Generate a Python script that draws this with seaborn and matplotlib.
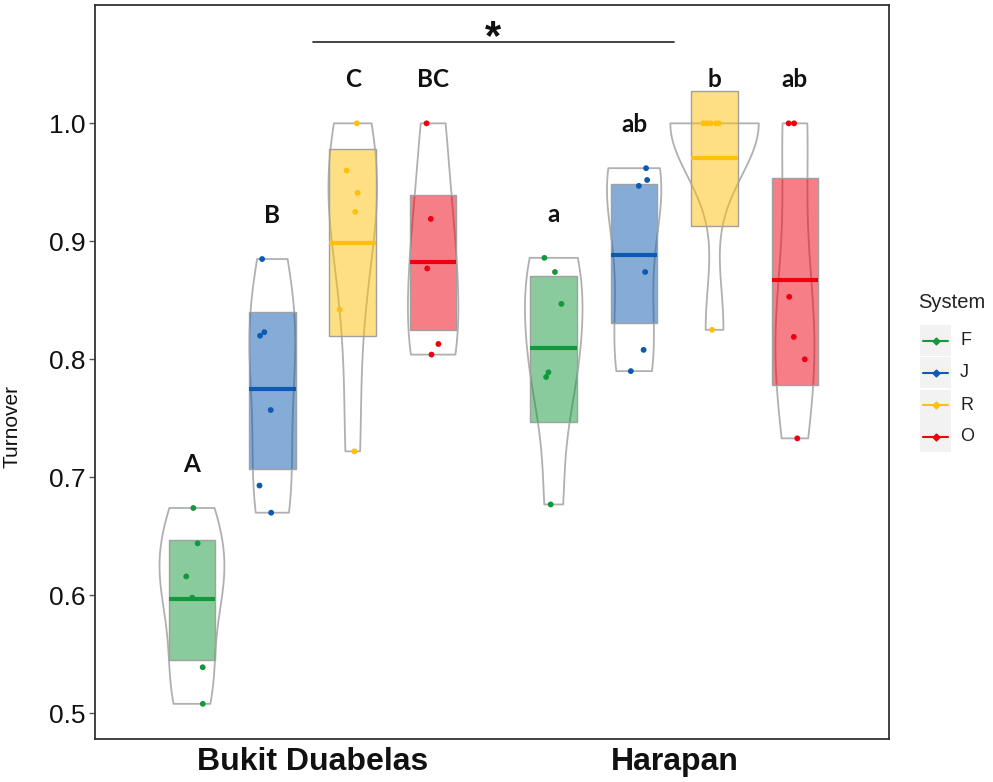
import numpy as np
import pandas as pd
import matplotlib
matplotlib.use("Agg")
import matplotlib.pyplot as plt
from matplotlib.patches import Rectangle
from matplotlib.lines import Line2D
import seaborn as sns

# ---------------- data ----------------
groups = ["Bukit Duabelas", "Harapan"]
systems = ["F", "J", "R", "O"]
sys_colors = ["#15983D", "#0C5BB0", "#FEC10B", "#EE0011"]

bd_F = [0.674, 0.644, 0.616, 0.598, 0.539, 0.508]
bd_J = [0.885, 0.823, 0.820, 0.757, 0.693, 0.670]
bd_R = [1.000, 0.960, 0.941, 0.925, 0.842, 0.722]
bd_O = [1.000, 0.919, 0.877, 0.813, 0.804]
ha_F = [0.886, 0.874, 0.847, 0.789, 0.785, 0.677]
ha_J = [0.962, 0.952, 0.947, 0.874, 0.808, 0.790]
ha_R = [1.000, 1.000, 1.000, 1.000, 1.000, 0.825]
ha_O = [1.000, 1.000, 0.853, 0.819, 0.800, 0.733]

# inference band (box) limits per group, in system order
bd_box_lo = [0.545, 0.707, 0.820, 0.825]
bd_box_hi = [0.647, 0.840, 0.978, 0.939]
ha_box_lo = [0.747, 0.831, 0.913, 0.778]
ha_box_hi = [0.871, 0.949, 1.027, 0.954]

bd_letters = ["A", "B", "C", "BC"]
ha_letters = ["a", "ab", "b", "ab"]

y_ticks = [0.5, 0.6, 0.7, 0.8, 0.9, 1.0]
y_tick_labels = ["0.5", "0.6", "0.7", "0.8", "0.9", "1.0"]

# ---------------- assemble ----------------
values = {("Bukit Duabelas", "F"): bd_F, ("Bukit Duabelas", "J"): bd_J,
          ("Bukit Duabelas", "R"): bd_R, ("Bukit Duabelas", "O"): bd_O,
          ("Harapan", "F"): ha_F, ("Harapan", "J"): ha_J,
          ("Harapan", "R"): ha_R, ("Harapan", "O"): ha_O}
box_lo = {"Bukit Duabelas": bd_box_lo, "Harapan": ha_box_lo}
box_hi = {"Bukit Duabelas": bd_box_hi, "Harapan": ha_box_hi}
letters = {"Bukit Duabelas": bd_letters, "Harapan": ha_letters}

GROUP_STEP = 4.5
def pos_of(gi, si):
    return gi * GROUP_STEP + si

rows = []
for gi, g in enumerate(groups):
    for si, s in enumerate(systems):
        for v in values[(g, s)]:
            rows.append({"group": g, "system": s, "pos": pos_of(gi, si), "value": v})
df = pd.DataFrame(rows)

sns.set_style("white")
plt.rcParams["font.family"] = ["Liberation Sans", "DejaVu Sans"]

W, H = 993, 782
fig = plt.figure(figsize=(W / 100, H / 100), dpi=100)
ax = fig.add_axes([95 / W, (H - 739) / H, 794 / W, 734 / H])

# violins (density outlines)
sns.violinplot(data=df, x="pos", y="value", native_scale=True, cut=0, inner=None,
               fill=False, color="#b0b0b0", linewidth=1.3, density_norm="area",
               width=1.1, bw_method="scott", bw_adjust=0.9, ax=ax, zorder=1)

box_w = 0.58
for gi, g in enumerate(groups):
    for si, s in enumerate(systems):
        p = pos_of(gi, si)
        lo, hi = box_lo[g][si], box_hi[g][si]
        ax.bar(p, hi - lo, bottom=lo, width=box_w, color=sys_colors[si], alpha=0.5,
               edgecolor="none", zorder=2)
        ax.bar(p, hi - lo, bottom=lo, width=box_w, fill=False,
               edgecolor="#a0a0a0", linewidth=1.0, zorder=3)
        m = float(np.mean(values[(g, s)]))
        ax.plot([p - box_w / 2, p + box_w / 2], [m, m], color=sys_colors[si],
                lw=3, solid_capstyle="butt", zorder=4)
        top = max(values[(g, s)])
        ax.text(p, top + 0.037, letters[g][si], ha="center", va="center",
                fontsize=17.5, fontweight="bold", family=["Lato", "DejaVu Sans"],
                color="#111111", zorder=6)

np.random.seed(3)
sns.stripplot(data=df, x="pos", y="value", hue="system", native_scale=True,
              palette=dict(zip(systems, sys_colors)), jitter=0.17, size=4.2,
              linewidth=0, legend=False, ax=ax, zorder=5)

# significance bracket
gA, gB = pos_of(0, 1.5), pos_of(1, 1.5)
ax.plot([gA, gB], [1.069, 1.069], color="#222222", lw=1.2, zorder=6)
ax.text((gA + gB) / 2, 1.072, "*", ha="center", va="center", fontsize=30,
        fontweight="bold", color="#111111")

ax.set_xlim(-1.206, 8.67)
ax.set_ylim(0.4782, 1.1003)
ax.set_yticks(y_ticks)
ax.set_yticklabels(y_tick_labels, fontsize=19, color="#111111")
ax.set_xticks([pos_of(0, 1.5), pos_of(1, 1.5)])
ax.set_xticklabels(groups, fontsize=23, fontweight="bold", color="#111111")
ax.tick_params(axis="y", length=4, width=1, color="#555555", pad=3, left=True)
ax.tick_params(axis="x", length=0, pad=6)
ax.set_xlabel("")
ax.set_ylabel("Turnover", fontsize=15, color="#111111")
ax.yaxis.set_label_coords((22 - 95) / 794, (739 - 426) / 734)
for sp in ax.spines.values():
    sp.set_visible(True)
    sp.set_color("#333333")
    sp.set_linewidth(1.3)

# legend (ggplot style keys)
def fx(px):
    return px / W
def fy(py):
    return 1 - py / H
fig.text(fx(918), fy(302), "System", fontsize=14.5, ha="left", va="center", color="#222222")
key_tops = [325, 357, 390, 421]
for si, s in enumerate(systems):
    t = key_tops[si]
    fig.patches.append(Rectangle((fx(920), fy(t + 31)), 31 / W, 31 / H,
                                 transform=fig.transFigure, facecolor="#f2f2f2",
                                 edgecolor="none"))
    cy = fy(t + 15.5)
    fig.lines.append(Line2D([fx(923), fx(948)], [cy, cy], transform=fig.transFigure,
                            color=sys_colors[si], lw=1.5))
    fig.lines.append(Line2D([fx(935.5)], [cy], transform=fig.transFigure,
                            color=sys_colors[si], marker="D", markersize=3.5, lw=0))
    fig.text(fx(960), cy, s, fontsize=13, ha="left", va="center", color="#222222")

fig.savefig("out.png", dpi=100)
